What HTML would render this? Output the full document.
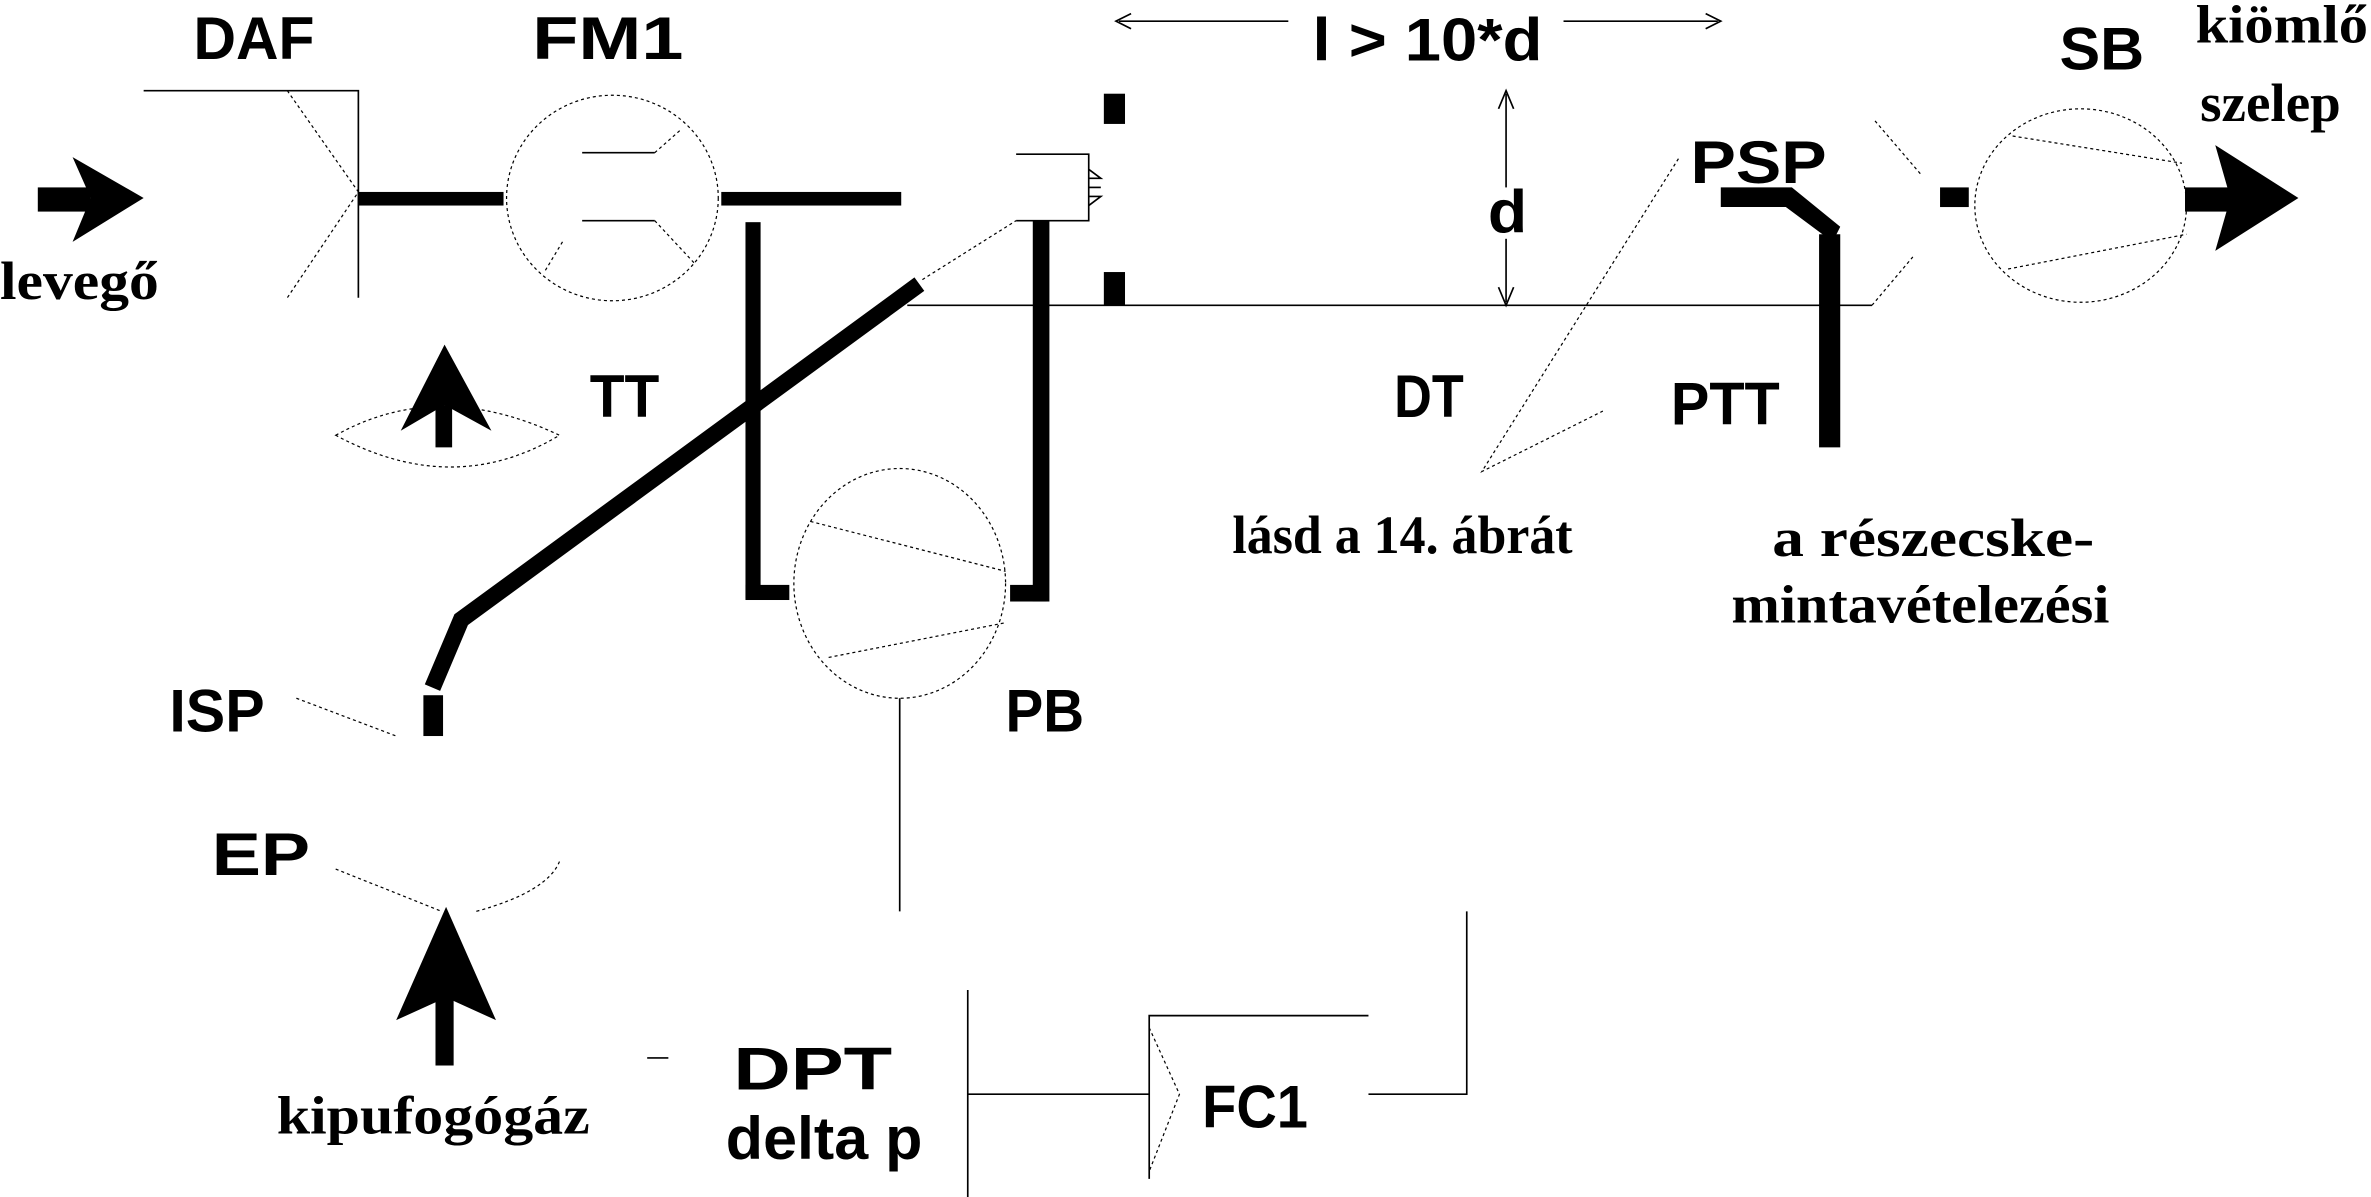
<!DOCTYPE html>
<html><head><meta charset="utf-8"><style>
html,body{margin:0;padding:0;background:#fff;}
svg{display:block;}
.s{font-family:"Liberation Sans",sans-serif;font-weight:bold;font-size:40px;}
.r{font-family:"Liberation Serif",serif;font-weight:bold;font-size:36px;}
.d{stroke:#000;stroke-width:0.8;stroke-dasharray:2 2;fill:none;}
.t{stroke:#000;stroke-width:1.1;fill:none;}
</style></head><body>
<svg width="2371" height="1197" viewBox="0 0 1568 792" preserveAspectRatio="none" xmlns="http://www.w3.org/2000/svg">
<rect width="1568" height="792" fill="#fff"/>
<text class="s" x="128" y="39" textLength="80" lengthAdjust="spacingAndGlyphs">DAF</text>
<text class="s" x="352" y="39" textLength="100" lengthAdjust="spacingAndGlyphs">FM1</text>
<text class="s" x="868" y="40" textLength="152" lengthAdjust="spacingAndGlyphs">l &gt; 10*d</text>
<line class="t" x1="740" y1="14" x2="852" y2="14"/><path d="M748,9 L738,14 L748,19" class="t"/>
<line class="t" x1="1034" y1="14" x2="1136" y2="14"/><path d="M1128,9 L1138,14 L1128,19" class="t"/>
<text class="s" x="1362" y="46" textLength="56" lengthAdjust="spacingAndGlyphs">SB</text>
<text class="r" x="1452" y="28" textLength="114" lengthAdjust="spacingAndGlyphs">kiömlő</text>
<text class="r" x="1455" y="80" textLength="93" lengthAdjust="spacingAndGlyphs">szelep</text>
<rect x="25" y="124" width="35" height="16" fill="#000"/>
<polygon points="48,104 95,131 48,160 60,131" fill="#000"/>
<text class="r" x="0" y="198" textLength="105" lengthAdjust="spacingAndGlyphs">levegő</text>
<polyline class="t" points="95,60 237,60 237,197"/>
<polyline class="d" points="190,60 237,127 190,197"/>
<rect x="237" y="127" width="96" height="9" fill="#000"/>
<ellipse class="d" cx="405" cy="131" rx="70" ry="68"/>
<line class="t" x1="385" y1="101" x2="433" y2="101"/><line class="d" x1="433" y1="101" x2="450" y2="86"/>
<line class="t" x1="385" y1="146" x2="433" y2="146"/><line class="d" x1="433" y1="146" x2="460" y2="175"/>
<line class="d" x1="372" y1="160" x2="360" y2="180"/>
<rect x="477" y="127" width="119" height="9" fill="#000"/>
<polyline class="t" points="672,102 720,102 720,146 672,146"/>
<polyline class="t" points="720,112 728,118 720,118"/>
<line class="t" x1="720" y1="124" x2="728" y2="124"/>
<polyline class="t" points="720,130 728,130 720,136"/>
<line class="d" x1="610" y1="185" x2="672" y2="146"/>
<rect x="730" y="62" width="14" height="20" fill="#000"/>
<rect x="730" y="180" width="14" height="22" fill="#000"/>
<rect x="493" y="147" width="10" height="249" fill="#000"/>
<rect x="493" y="387" width="29" height="10" fill="#000"/>
<rect x="683" y="146" width="11" height="252" fill="#000"/>
<rect x="668" y="387" width="24" height="11" fill="#000"/>
<polyline points="608,188 305,410 286,455" stroke="#000" stroke-width="11" fill="none"/>
<rect x="280" y="460" width="13" height="27" fill="#000"/>
<line class="t" x1="600" y1="202" x2="1238" y2="202"/>
<line class="d" x1="1238" y1="202" x2="1265" y2="170"/>
<line class="d" x1="1240" y1="80" x2="1270" y2="115"/>
<line class="t" x1="996" y1="62" x2="996" y2="124"/>
<line class="t" x1="996" y1="158" x2="996" y2="200"/>
<path class="t" d="M991,72 L996,60 L1001,72 M991,190 L996,202 L1001,190"/>
<text class="s" x="984" y="154" textLength="26" lengthAdjust="spacingAndGlyphs">d</text>
<text class="s" x="1118" y="121" textLength="90" lengthAdjust="spacingAndGlyphs">PSP</text>
<polygon points="1138,124 1185,124 1217,150 1212,160 1181,137 1138,137" fill="#000"/>
<rect x="1203" y="155" width="14" height="141" fill="#000"/>
<polyline class="d" points="1110,105 980,312 1060,272"/>
<rect x="1283" y="124" width="19" height="13" fill="#000"/>
<ellipse class="d" cx="1376" cy="136" rx="70" ry="64"/>
<line class="d" x1="1331" y1="90" x2="1443" y2="108"/>
<line class="d" x1="1328" y1="178" x2="1446" y2="155"/>
<rect x="1445" y="124" width="35" height="16" fill="#000"/>
<polygon points="1465,96 1520,131 1465,166 1475,131" fill="#000"/>
<text class="s" x="390" y="276" textLength="46" lengthAdjust="spacingAndGlyphs">TT</text>
<text class="s" x="922" y="276" textLength="46" lengthAdjust="spacingAndGlyphs">DT</text>
<text class="s" x="1105" y="281" textLength="72" lengthAdjust="spacingAndGlyphs">PTT</text>
<path class="d" d="M222,288 Q290,250 370,288 Q300,330 222,288 Z"/>
<rect x="288" y="268" width="11" height="28" fill="#000"/>
<polygon points="294,228 325,285 294,268 265,285" fill="#000"/>
<ellipse class="d" cx="595" cy="386" rx="70" ry="76"/>
<line class="d" x1="536" y1="345" x2="665" y2="378"/>
<line class="d" x1="548" y1="435" x2="665" y2="412"/>
<line class="t" x1="595" y1="462" x2="595" y2="603"/>
<text class="s" x="665" y="484" textLength="52" lengthAdjust="spacingAndGlyphs">PB</text>
<text class="r" x="815" y="366" textLength="225" lengthAdjust="spacingAndGlyphs">lásd a 14. ábrát</text>
<text class="r" x="1172" y="368" textLength="213" lengthAdjust="spacingAndGlyphs">a részecske-</text>
<text class="r" x="1145" y="412" textLength="250" lengthAdjust="spacingAndGlyphs">mintavételezési</text>
<text class="s" x="112" y="484" textLength="63" lengthAdjust="spacingAndGlyphs">ISP</text>
<line class="d" x1="196" y1="462" x2="262" y2="487"/>
<text class="s" x="140" y="579" textLength="65" lengthAdjust="spacingAndGlyphs">EP</text>
<path class="d" d="M222,575 L292,603"/>
<path class="d" d="M315,603 Q362,590 370,570"/>
<rect x="288" y="660" width="12" height="45" fill="#000"/>
<polygon points="295,600 328,675 295,660 262,675" fill="#000"/>
<text class="r" x="183" y="750" textLength="207" lengthAdjust="spacingAndGlyphs">kipufogógáz</text>
<line class="t" x1="428" y1="700" x2="442" y2="700"/>
<text class="s" x="485" y="721" textLength="105" lengthAdjust="spacingAndGlyphs">DPT</text>
<text class="s" x="480" y="767" textLength="130" lengthAdjust="spacingAndGlyphs">delta p</text>
<line class="t" x1="640" y1="655" x2="640" y2="792"/>
<line class="t" x1="640" y1="724" x2="760" y2="724"/>
<polyline class="t" points="760,780 760,672 905,672"/>
<polyline class="d" points="760,680 780,724 760,775"/>
<text class="s" x="795" y="746" textLength="70" lengthAdjust="spacingAndGlyphs">FC1</text>
<polyline class="t" points="905,724 970,724 970,603"/>
</svg>
</body></html>
